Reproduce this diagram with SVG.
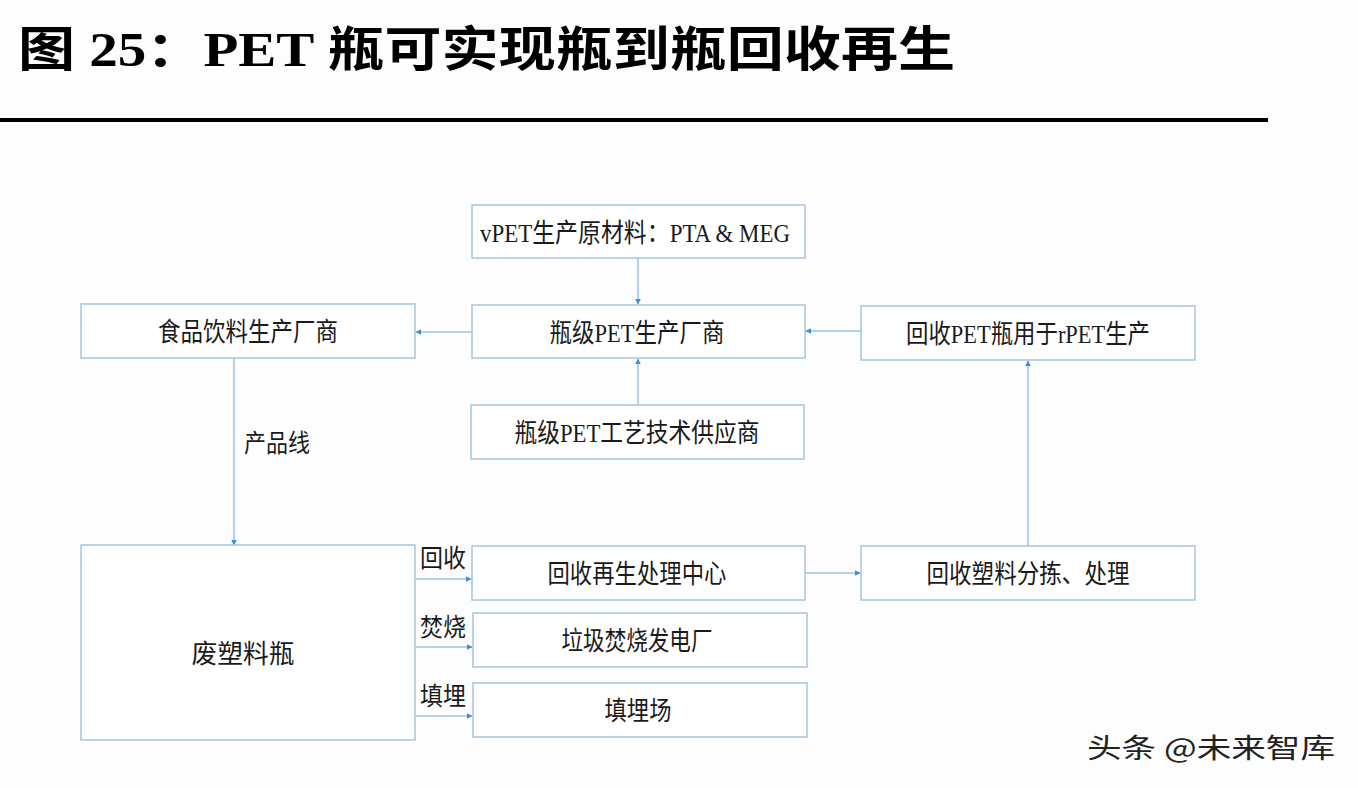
<svg xmlns="http://www.w3.org/2000/svg" width="1358" height="788" viewBox="0 0 1358 788">
<defs>
<style>
.box{fill:#ffffff;stroke:#a7c4e0;stroke-width:1.5}
.t{font-family:"Liberation Serif","Noto Sans CJK SC",serif;font-size:26px;fill:#1a1a1a;text-anchor:middle}
.lb{font-family:"Liberation Serif","Noto Sans CJK SC",serif;font-size:25px;fill:#1a1a1a}
.c{stroke:#9cc3e6;stroke-width:1.5;fill:none}
</style>
<marker id="ah" viewBox="0 0 10 10" refX="9" refY="5" markerWidth="6" markerHeight="6" orient="auto" markerUnits="userSpaceOnUse">
<path d="M0,0 L10,5 L0,10 z" fill="#3b8ee0"/>
</marker>
</defs>
<rect width="1358" height="788" fill="#fdfdfd"/>
<g id="title">
<text x="18" y="66" font-family="'Liberation Serif','Noto Sans CJK SC',serif" font-size="48" font-weight="bold" fill="#000" textLength="937" lengthAdjust="spacingAndGlyphs">图 25：PET 瓶可实现瓶到瓶回收再生</text>
<rect x="0" y="118" width="1268" height="4" fill="#000"/>
</g>
<g id="connectors">
<line class="c" x1="638" y1="258" x2="638" y2="304" marker-end="url(#ah)"/>
<line class="c" x1="638" y1="405" x2="638" y2="359" marker-end="url(#ah)"/>
<line class="c" x1="472" y1="332" x2="416" y2="332" marker-end="url(#ah)"/>
<line class="c" x1="861" y1="331" x2="806" y2="331" marker-end="url(#ah)"/>
<line class="c" x1="234" y1="358" x2="234" y2="545" marker-end="url(#ah)"/>
<line class="c" x1="415" y1="579" x2="471" y2="579" marker-end="url(#ah)"/>
<line class="c" x1="415" y1="647" x2="472" y2="647" marker-end="url(#ah)"/>
<line class="c" x1="415" y1="716" x2="472" y2="716" marker-end="url(#ah)"/>
<line class="c" x1="805" y1="573" x2="860" y2="573" marker-end="url(#ah)"/>
<line class="c" x1="1028" y1="546" x2="1028" y2="361" marker-end="url(#ah)"/>
<text class="lb" x="244" y="452" textLength="66" lengthAdjust="spacingAndGlyphs">产品线</text>
<text class="lb" x="420" y="567" textLength="46" lengthAdjust="spacingAndGlyphs">回收</text>
<text class="lb" x="420" y="636" textLength="46" lengthAdjust="spacingAndGlyphs">焚烧</text>
<text class="lb" x="420" y="705" textLength="46" lengthAdjust="spacingAndGlyphs">填埋</text>
</g>
<g id="n-vpet"><rect class="box" x="472" y="205" width="333" height="53"/><text class="t" x="635" y="242" textLength="310" lengthAdjust="spacingAndGlyphs">vPET生产原材料：PTA &amp; MEG</text></g>
<g id="n-bottle"><rect class="box" x="472" y="305" width="333" height="53"/><text class="t" x="637" y="342" textLength="175" lengthAdjust="spacingAndGlyphs">瓶级PET生产厂商</text></g>
<g id="n-food"><rect class="box" x="81" y="304" width="334" height="54"/><text class="t" x="248" y="341" textLength="180" lengthAdjust="spacingAndGlyphs">食品饮料生产厂商</text></g>
<g id="n-rpet"><rect class="box" x="861" y="306" width="334" height="54"/><text class="t" x="1028" y="343" textLength="244" lengthAdjust="spacingAndGlyphs">回收PET瓶用于rPET生产</text></g>
<g id="n-tech"><rect class="box" x="471" y="405" width="333" height="54"/><text class="t" x="637" y="442" textLength="245" lengthAdjust="spacingAndGlyphs">瓶级PET工艺技术供应商</text></g>
<g id="n-waste"><rect class="box" x="81" y="545" width="334" height="195"/><text class="t" x="243" y="663" textLength="103" lengthAdjust="spacingAndGlyphs">废塑料瓶</text></g>
<g id="n-recycle"><rect class="box" x="472" y="546" width="333" height="54"/><text class="t" x="637" y="583" textLength="179" lengthAdjust="spacingAndGlyphs">回收再生处理中心</text></g>
<g id="n-burn"><rect class="box" x="473" y="613" width="334" height="54"/><text class="t" x="637" y="650" textLength="151" lengthAdjust="spacingAndGlyphs">垃圾焚烧发电厂</text></g>
<g id="n-landfill"><rect class="box" x="473" y="683" width="334" height="54"/><text class="t" x="638" y="720" textLength="67" lengthAdjust="spacingAndGlyphs">填埋场</text></g>
<g id="n-sort"><rect class="box" x="861" y="546" width="334" height="54"/><text class="t" x="1028" y="583" textLength="203" lengthAdjust="spacingAndGlyphs">回收塑料分拣、处理</text></g>
<g id="watermark"><text x="1087" y="758" font-family="'Noto Sans CJK SC',sans-serif" font-size="27" fill="#222" textLength="248" lengthAdjust="spacingAndGlyphs">头条 @未来智库</text></g>
</svg>
